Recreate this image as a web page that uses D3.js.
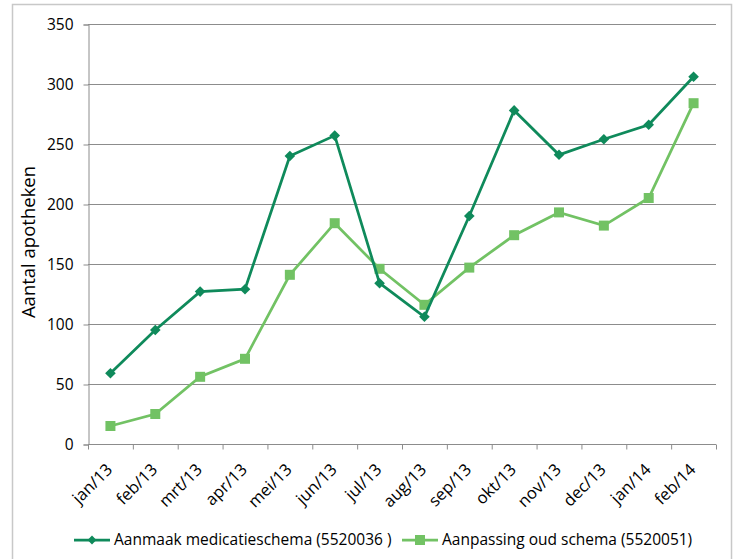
<!DOCTYPE html>
<html>
<head>
<meta charset="utf-8">
<script src="https://cdn.jsdelivr.net/npm/d3@7"></script>
<style>
  body { margin: 0; background: #fff; }
  text { font-family: "Open Sans", "Noto Sans", sans-serif; fill: #000; }
</style>
</head>
<body>
<svg id="chart" width="737" height="559"></svg>
<script>
const months = ['jan/13','feb/13','mrt/13','apr/13','mei/13','jun/13','jul/13',
    'aug/13','sep/13','okt/13','nov/13','dec/13','jan/14','feb/14'];
const aanmaak = [59, 95, 127, 129, 240, 257, 134, 106, 190, 278, 241, 254, 266, 306];
const aanpassing = [15, 25, 56, 71, 141, 184, 146, 116, 147, 174, 193, 182, 205, 284];
const yTicks = [0, 50, 100, 150, 200, 250, 300, 350];
const seriesNames = ['Aanmaak medicatieschema (5520036 )', 'Aanpassing oud schema (5520051)'];

const colors = { dark: '#0f8a5b', light: '#72c264', grid: '#8c8c8c' };

const svg = d3.select('#chart');
const plot = { left: 88, right: 716, top: 24, bottom: 444 };

// outer frame
svg.append('rect')
    .attr('x', 12.5).attr('y', 4.5)
    .attr('width', 719).attr('height', 570)
    .attr('fill', 'none').attr('stroke', '#c8c8c8').attr('stroke-width', 1.5);

const x = d3.scaleBand().domain(months).range([plot.left, plot.right]);
const y = d3.scaleLinear().domain([0, 350]).range([plot.bottom, plot.top]);

// horizontal gridlines
svg.append('g')
    .selectAll('line')
    .data(yTicks.slice(1))
    .join('line')
    .attr('x1', plot.left).attr('x2', plot.right)
    .attr('y1', d => y(d) + 0.5).attr('y2', d => y(d) + 0.5)
    .attr('stroke', colors.grid);

// y axis
const yAxis = svg.append('g')
    .attr('transform', `translate(${plot.left + 0.5},0.5)`)
    .call(d3.axisLeft(y).tickValues(yTicks).tickSize(5).tickPadding(10));
yAxis.select('.domain').attr('stroke', colors.grid);
yAxis.selectAll('.tick line').attr('stroke', colors.grid);
yAxis.selectAll('text').style('font-size', '15.5px');

// x axis with ticks between categories
const xAxis = svg.append('g').attr('transform', `translate(0,${plot.bottom + 0.5})`);
xAxis.append('line')
    .attr('x1', plot.left).attr('x2', plot.right)
    .attr('stroke', colors.grid);
xAxis.selectAll('line.tk')
    .data(months.concat(['end']))
    .join('line')
    .attr('class', 'tk')
    .attr('x1', (d, i) => plot.left + i * x.step() + 0.5)
    .attr('x2', (d, i) => plot.left + i * x.step() + 0.5)
    .attr('y1', 0).attr('y2', 5)
    .attr('stroke', colors.grid);
xAxis.selectAll('text')
    .data(months)
    .join('text')
    .attr('transform', d => `translate(${x(d) + x.bandwidth() / 2 - 1},${22}) rotate(-45)`)
    .attr('text-anchor', 'end')
    .attr('dy', '0.35em')
    .style('font-size', '16.5px')
    .text(d => d);

// y axis title
svg.append('text')
    .attr('transform', 'translate(35,242) rotate(-90)')
    .attr('text-anchor', 'middle')
    .style('font-size', '18.5px')
    .text('Aantal apotheken');

const cx = d => x(d) + x.bandwidth() / 2;
const line = d3.line().x((d, i) => cx(months[i])).y(d => y(d));

// light series (square markers)
svg.append('path')
    .datum(aanpassing)
    .attr('d', line)
    .attr('fill', 'none').attr('stroke', colors.light).attr('stroke-width', 2.75);
svg.append('g')
    .selectAll('rect')
    .data(aanpassing)
    .join('rect')
    .attr('x', (d, i) => cx(months[i]) - 5)
    .attr('y', d => y(d) - 5)
    .attr('width', 10).attr('height', 10)
    .attr('fill', colors.light);

// dark series (diamond markers)
svg.append('path')
    .datum(aanmaak)
    .attr('d', line)
    .attr('fill', 'none').attr('stroke', colors.dark).attr('stroke-width', 2.75);
svg.append('g')
    .selectAll('path')
    .data(aanmaak)
    .join('path')
    .attr('d', d3.symbol(d3.symbolDiamond2, 72))
    .attr('transform', (d, i) => `translate(${cx(months[i])},${y(d)})`)
    .attr('fill', colors.dark);

// legend
const legend = svg.append('g').attr('transform', 'translate(0,540)');
const legendItems = [
    { name: seriesNames[0], color: colors.dark, x: 74, marker: 'diamond' },
    { name: seriesNames[1], color: colors.light, x: 402, marker: 'square' }
];
legendItems.forEach(item => {
    legend.append('line')
        .attr('x1', item.x).attr('x2', item.x + 36)
        .attr('y1', 0).attr('y2', 0)
        .attr('stroke', item.color).attr('stroke-width', 2.75);
    if (item.marker === 'diamond') {
        legend.append('path')
            .attr('d', d3.symbol(d3.symbolDiamond2, 50))
            .attr('transform', `translate(${item.x + 18},0)`)
            .attr('fill', item.color);
    } else {
        legend.append('rect')
            .attr('x', item.x + 13).attr('y', -5)
            .attr('width', 10).attr('height', 10)
            .attr('fill', item.color);
    }
    legend.append('text')
        .attr('x', item.x + 40).attr('y', 0)
        .attr('dy', '0.35em')
        .style('font-size', '15.5px')
        .text(item.name);
});
</script>
</body>
</html>
